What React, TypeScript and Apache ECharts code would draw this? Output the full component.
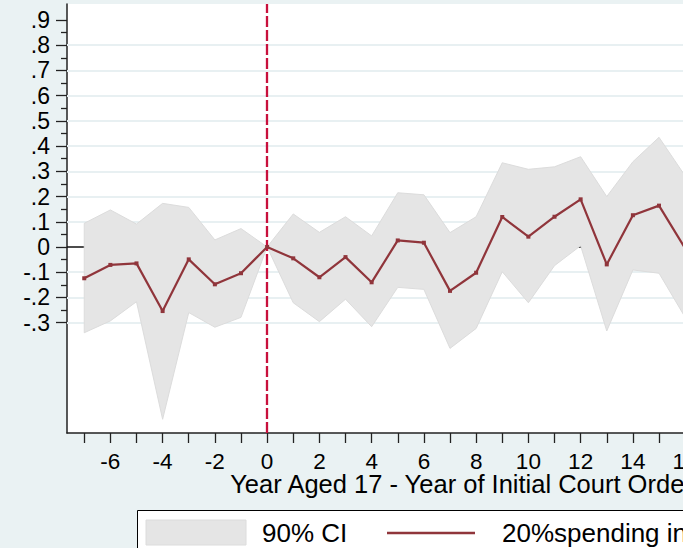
import React, { useEffect, useRef } from "react";
import * as echarts from "echarts";

const years = [-7, -6, -5, -4, -3, -2, -1, 0, 1, 2, 3, 4, 5, 6, 7, 8, 9, 10, 11, 12, 13, 14, 15, 16];
const estimate = [-0.124, -0.071, -0.065, -0.254, -0.049, -0.148, -0.104, 0, -0.045, -0.12, -0.04, -0.14, 0.026, 0.017, -0.174, -0.102, 0.119, 0.041, 0.12, 0.189, -0.069, 0.126, 0.164, -0.005];
const upperCI = [0.094, 0.147, 0.091, 0.173, 0.157, 0.028, 0.073, 0, 0.131, 0.058, 0.12, 0.044, 0.215, 0.207, 0.057, 0.12, 0.334, 0.308, 0.318, 0.358, 0.2, 0.338, 0.435, 0.282];
const lowerCI = [-0.34, -0.293, -0.217, -0.683, -0.26, -0.318, -0.279, 0, -0.221, -0.296, -0.207, -0.316, -0.16, -0.168, -0.402, -0.323, -0.098, -0.221, -0.074, 0.005, -0.333, -0.091, -0.104, -0.279];

const yTickValues = [-0.3, -0.2, -0.1, 0, 0.1, 0.2, 0.3, 0.4, 0.5, 0.6, 0.7, 0.8, 0.9];
const yMinorTickValues = [-0.25, -0.15, -0.05, 0.05, 0.15, 0.25, 0.35, 0.45, 0.55, 0.65, 0.75, 0.85];
const yGridValues = [-0.3, -0.2, -0.1, 0.1, 0.2, 0.3, 0.4, 0.5, 0.6, 0.7, 0.8];
const xTickValues = [-7, -6, -5, -4, -3, -2, -1, 0, 1, 2, 3, 4, 5, 6, 7, 8, 9, 10, 11, 12, 13, 14, 15, 16, 17, 18, 19, 20, 21, 22];
const xLabelValues = [-6, -4, -2, 0, 2, 4, 6, 8, 10, 12, 14, 16, 18, 20, 22];

const xTitle = "Year Aged 17 - Year of Initial Court Order";
const legendCI = "90% CI";
const legendLine = "20%spending increase";

const FONT = '"Liberation Sans", Arial, Helvetica, sans-serif';
const BG = "#eaf2f3";
const BAND = "#e5e5e5";
const BAND_EDGE = "#dcdcdc";
const LINE = "#90353b";
const VLINE = "#c8103c";

function fmtY(v: number): string {
  const r = Math.round(v * 10);
  if (r === 0) return "0";
  return (r < 0 ? "-" : "") + "." + Math.abs(r);
}

export default function App() {
  const ref = useRef<HTMLDivElement>(null);

  useEffect(() => {
    if (!ref.current) return;
    const chart = echarts.init(ref.current, undefined, { renderer: "svg" });
    const W = 900;
    const option: any = {
      animation: false,
      backgroundColor: BG,
      textStyle: { fontFamily: FONT },
      grid: {
        left: 67,
        top: 4,
        right: W - 856,
        bottom: 115,
        show: true,
        backgroundColor: "#ffffff",
        borderWidth: 0,
      },
      xAxis: {
        type: "value",
        min: -7.66,
        max: 22.54,
        axisLine: { show: true, onZero: false, lineStyle: { color: "#222", width: 1.5 } },
        axisTick: { show: true, customValues: xTickValues, length: 10, lineStyle: { color: "#222", width: 1.3 } },
        axisLabel: {
          customValues: xLabelValues,
          fontSize: 22.5,
          lineHeight: 18,
          color: "#000",
          margin: 19.5,
          fontFamily: FONT,
        },
        splitLine: { show: false },
        name: xTitle,
        nameLocation: "middle",
        nameGap: 41,
        nameMoveOverlap: false,
        nameTextStyle: { fontSize: 25.5, lineHeight: 20, color: "#000", fontFamily: FONT },
      },
      yAxis: [
        {
          type: "value",
          min: -0.7375,
          max: 0.9635,
          position: "left",
          axisLine: { show: true, onZero: false, lineStyle: { color: "#222", width: 1.5 } },
          axisTick: { show: true, customValues: yTickValues, length: 11, lineStyle: { color: "#222", width: 1.3 } },
          axisLabel: {
            customValues: yTickValues,
            formatter: (v: number) => fmtY(v),
            fontSize: 23,
            lineHeight: 20,
            color: "#000",
            margin: 17,
            fontFamily: FONT,
          },
          splitLine: { show: false },
        },
        {
          type: "value",
          min: -0.7375,
          max: 0.9635,
          position: "left",
          offset: 0,
          axisLine: { show: false, onZero: false },
          axisTick: { show: true, customValues: yMinorTickValues, length: 6, lineStyle: { color: "#222", width: 1.3 } },
          axisLabel: { show: false },
          splitLine: { show: false },
        },
      ],
      series: [
        {
          type: "line",
          name: "grid",
          z: 1,
          data: [],
          silent: true,
          markLine: {
            z: 1,
            silent: true,
            symbol: "none",
            label: { show: false },
            data: [
              ...yGridValues.map((v) => ({ yAxis: v, lineStyle: { color: "#e8f0f2", width: 2, type: "solid" } })),
              { yAxis: 0, lineStyle: { color: "#111", width: 1.6, type: "solid" } },
            ],
          },
        },
        {
          type: "custom",
          name: legendCI,
          z: 2,
          silent: true,
          clip: true,
          data: years.map((x, i) => [x, lowerCI[i], upperCI[i]]),
          encode: { x: 0, y: [1, 2] },
          renderItem: (params: any, api: any) => {
            if (params.dataIndex !== 0) return null;
            const pts: number[][] = [];
            for (let i = 0; i < years.length; i++) pts.push(api.coord([years[i], upperCI[i]]));
            for (let i = years.length - 1; i >= 0; i--) pts.push(api.coord([years[i], lowerCI[i]]));
            return {
              type: "polygon",
              shape: { points: pts },
              style: { fill: BAND, stroke: BAND_EDGE, lineWidth: 1 },
            };
          },
        },
        {
          type: "line",
          name: "vline",
          z: 3,
          data: [],
          silent: true,
          markLine: {
            z: 3,
            silent: true,
            symbol: "none",
            label: { show: false },
            data: [{ xAxis: 0, lineStyle: { color: VLINE, width: 2.3, type: [11, 3] } }],
          },
        },
        {
          type: "line",
          name: legendLine,
          z: 4,
          data: years.map((x, i) => [x, estimate[i]]),
          symbol: "rect",
          symbolSize: 4,
          showSymbol: true,
          itemStyle: { color: LINE },
          lineStyle: { color: LINE, width: 2.2 },
        },
      ],
      graphic: [
        {
          type: "rect",
          silent: true,
          shape: { x: 137.5, y: 510.5, width: 648, height: 60 },
          style: { fill: "#ffffff", stroke: "#000", lineWidth: 1 },
        },
        {
          type: "rect",
          silent: true,
          shape: { x: 146, y: 520, width: 100, height: 25 },
          style: { fill: BAND, stroke: BAND_EDGE, lineWidth: 1 },
        },
        {
          type: "text",
          silent: true,
          x: 262,
          y: 533,
          style: { text: legendCI, fontSize: 26, fill: "#000", fontFamily: FONT, verticalAlign: "middle", align: "left" },
        },
        {
          type: "line",
          silent: true,
          shape: { x1: 387, y1: 533, x2: 475, y2: 533 },
          style: { stroke: LINE, lineWidth: 2.5 },
        },
        {
          type: "text",
          silent: true,
          x: 502,
          y: 533,
          style: { text: legendLine, fontSize: 26, fill: "#000", fontFamily: FONT, verticalAlign: "middle", align: "left" },
        },
      ],
    };
    chart.setOption(option);
    return () => chart.dispose();
  }, []);

  return (
    <div
      style={{
        position: "fixed",
        left: 0,
        top: 0,
        width: 683,
        height: 548,
        overflow: "hidden",
        background: BG,
      }}
    >
      <div ref={ref} style={{ width: 900, height: 548 }} />
    </div>
  );
}
